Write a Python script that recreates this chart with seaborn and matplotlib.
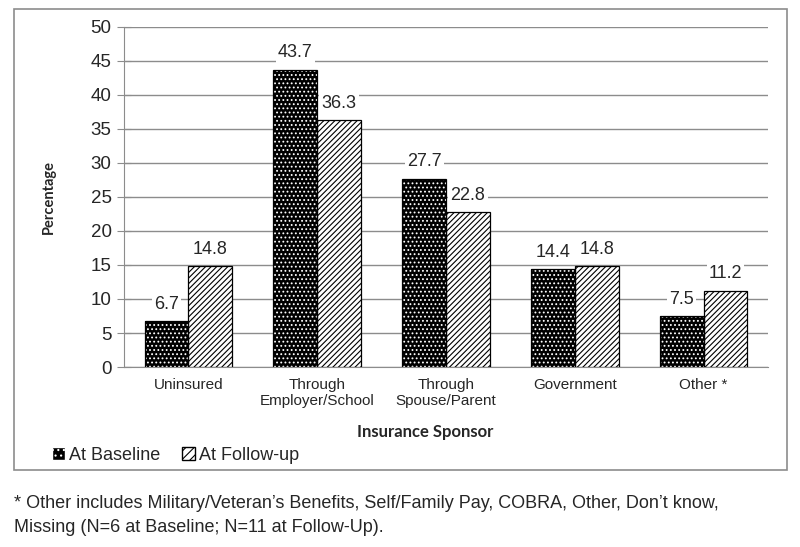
import pandas as pd
import numpy as np
import matplotlib
matplotlib.use('Agg')
from matplotlib import pyplot as plt
from matplotlib.patches import Rectangle, Patch
import seaborn as sns

# chart values
categories = ['Uninsured', 'Through\nEmployer/School', 'Through\nSpouse/Parent', 'Government', 'Other *']
baseline = [6.7, 43.7, 27.7, 14.4, 7.5]
followup = [14.8, 36.3, 22.8, 14.8, 11.2]
series = ['At Baseline', 'At Follow-up']

df = pd.DataFrame({
    'Sponsor': categories * 2,
    'Pct': baseline + followup,
    'Wave': [series[0]] * len(categories) + [series[1]] * len(categories),
})

sns.set_style('white')
plt.rcParams['font.family'] = ['Liberation Sans', 'DejaVu Sans']
plt.rcParams['hatch.linewidth'] = 0.8

fig = plt.figure(figsize=(8, 5.47), dpi=100)
ax = fig.add_axes([0.155, 0.329, 0.805, 0.622])

sns.barplot(data=df, x='Sponsor', y='Pct', hue='Wave', order=categories,
            hue_order=series, width=0.68, ax=ax, legend=False, zorder=3)

# style bars: dotted black for baseline, diagonal hatch for follow-up
for i, container in enumerate(ax.containers):
    for bar in container:
        if i == 0:
            bar.set_facecolor('black')
            bar.set_edgecolor('white')
            bar.set_hatch('....')
            bar.set_linewidth(0)
            ax.add_patch(Rectangle(bar.get_xy(), bar.get_width(), bar.get_height(),
                                   fill=False, edgecolor='black', lw=0.9, zorder=4))
        else:
            bar.set_facecolor('white')
            bar.set_edgecolor('black')
            bar.set_hatch('//////')
            bar.set_linewidth(0.9)
    ax.bar_label(container, fmt='%.1f', padding=6, fontsize=13, zorder=5,
                 bbox=dict(facecolor='white', edgecolor='none', pad=1.5))

ax.set_ylim(0, 50)
ax.set_yticks(np.arange(0, 51, 5))
ax.set_xlim(-0.5, len(categories) - 0.5)
ax.yaxis.grid(True, color='#8c8c8c', lw=1.0, zorder=0)
ax.set_axisbelow(True)
for s in ['top', 'right']:
    ax.spines[s].set_visible(False)
for s in ['left', 'bottom']:
    ax.spines[s].set_color('#8c8c8c')
ax.set_xticks(np.arange(-0.5, len(categories), 1), minor=True)
ax.tick_params(axis='x', which='minor', length=5, color='#8c8c8c', direction='out')
ax.tick_params(axis='x', which='major', length=0, labelsize=11, pad=8)
ax.tick_params(axis='y', length=10, color='#8c8c8c', direction='inout', left=True,
               labelsize=13.5, pad=4)

ax.set_ylabel('Percentage', fontsize=10.5, fontweight='bold', family='Lato')
ax.yaxis.set_label_coords(-0.106, 0.5)
ax.set_xlabel('Insurance Sponsor', fontsize=12, fontweight='bold', family='Lato')
ax.xaxis.set_label_coords(0.467, -0.168)

handles = [Patch(facecolor='black', edgecolor='white', hatch='...', label=series[0]),
           Patch(facecolor='white', edgecolor='black', hatch='////', label=series[1])]
fig.legend(handles=handles, loc='lower left', bbox_to_anchor=(0.045, 0.122), ncol=2,
           frameon=False, fontsize=13, handlelength=0.7, handleheight=0.7,
           handletextpad=0.25, columnspacing=1.2)

# outer frame
fig.add_artist(Rectangle((0.0175, 1 - 470 / 547), 0.966, (470 - 9) / 547,
                         transform=fig.transFigure, fill=False, edgecolor='#8c8c8c', lw=1.2))

fig.text(0.018, 1 - 503 / 547, "* Other includes Military/Veteran’s Benefits, Self/Family Pay, COBRA, Other, Don’t know,",
         fontsize=13, va='center', ha='left')
fig.text(0.018, 1 - 528 / 547, "Missing (N=6 at Baseline; N=11 at Follow-Up).",
         fontsize=13, va='center', ha='left')

plt.savefig('out.png', dpi=100)
plt.close()
